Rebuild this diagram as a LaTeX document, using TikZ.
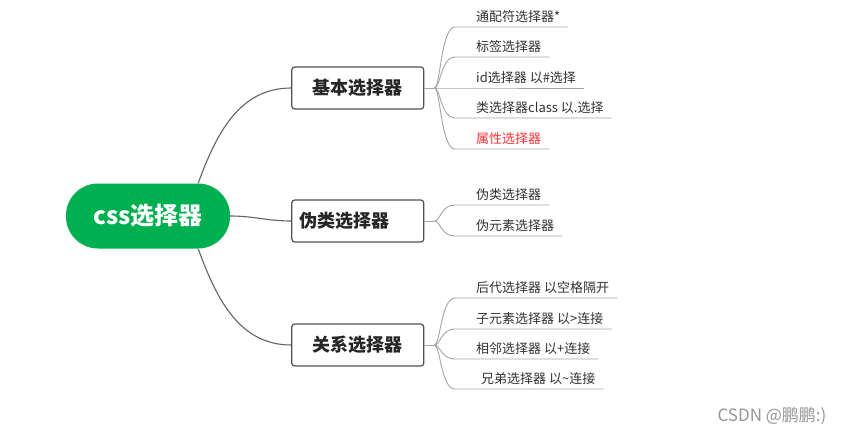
\documentclass[tikz,border=0pt]{standalone}
\usepackage{fontspec}
\setmainfont{Noto Sans CJK SC}
\usepackage{tikz}
\usetikzlibrary{positioning}
\definecolor{verderaiz}{RGB}{0,176,80}
\definecolor{grisborde}{RGB}{80,80,80}
\definecolor{grisrama}{RGB}{100,100,100}
\definecolor{grishoja}{RGB}{165,165,165}
\definecolor{gristexto}{RGB}{51,51,51}
\definecolor{rojohoja}{RGB}{255,51,51}
\definecolor{marcaagua}{RGB}{150,150,150}

\begin{document}
\begin{tikzpicture}[x=1pt, y=1pt,
  raiz/.style={fill=verderaiz, rounded corners=32pt, minimum width=164pt,
               minimum height=65pt, text=white,
               font=\fontsize{24}{28}\selectfont\bfseries},
  rama/.style={draw=grisborde, line width=1.2pt, fill=white, rounded corners=3pt,
               minimum width=132pt, minimum height=42pt, text=black!85,
               font=\fontsize{18}{22}\selectfont\bfseries},
  hoja/.style={anchor=south west, inner xsep=0pt, inner ysep=2pt, text depth=3pt,
               text=gristexto, font=\fontsize{13}{15}\selectfont},
  enlace/.style={draw=grisrama, line width=1.1pt},
  ramita/.style={draw=grishoja, line width=0.9pt}]
  \fill[white] (0,0) rectangle (848,-433);
  \useasboundingbox (0,0) rectangle (848,-433);
  \node[raiz] (css) at (148,-216) {css选择器};
  \node[rama, right=61pt of css, yshift=128pt] (basico) {基本选择器};
  \node[rama, right=61pt of css, yshift=-5pt, text width=116pt, align=left] (pseudo) {伪类选择器};
  \node[rama, right=61pt of css, yshift=-129pt] (relacion) {关系选择器};
  \draw[enlace] ([xshift=-32pt]css.north east) to[out=70, in=180] (basico.west);
  \draw[enlace] (css.east) to[out=0, in=180] (pseudo.west);
  \draw[enlace] ([xshift=-32pt]css.south east) to[out=-70, in=180] (relacion.west);
  % basico
  \coordinate[right=10pt of basico.east] (fb);
  \node[hoja] (b1) at (476,-27) {通配符选择器*};
  \node[hoja] (b2) at (476,-57) {标签选择器};
  \node[hoja] (b3) at (476,-88) {id选择器 以\#选择};
  \node[hoja] (b4) at (476,-118) {类选择器class 以.选择};
  \node[hoja, text=rojohoja] (b5) at (476,-149) {属性选择器};
  \draw[ramita] (basico) -- (fb);
  \draw[ramita] (fb) .. controls +(6,0) and +(-14,0) .. ([xshift=-21pt]b1.south west) -- ([xshift=8pt]b1.south east);
  \draw[ramita] (fb) .. controls +(6,0) and +(-14,0) .. ([xshift=-21pt]b2.south west) -- ([xshift=8pt]b2.south east);
  \draw[ramita] (fb) -- ([xshift=-21pt]b3.south west) -- ([xshift=8pt]b3.south east);
  \draw[ramita] (fb) .. controls +(6,0) and +(-14,0) .. ([xshift=-21pt]b4.south west) -- ([xshift=8pt]b4.south east);
  \draw[ramita] (fb) .. controls +(6,0) and +(-14,0) .. ([xshift=-21pt]b5.south west) -- ([xshift=8pt]b5.south east);
  % pseudo
  \coordinate[right=10pt of pseudo.east] (fp);
  \node[hoja] (p1) at (476,-205) {伪类选择器};
  \node[hoja] (p2) at (476,-236) {伪元素选择器};
  \draw[ramita] (pseudo) -- (fp);
  \draw[ramita] (fp) .. controls +(6,0) and +(-14,0) .. ([xshift=-21pt]p1.south west) -- ([xshift=8pt]p1.south east);
  \draw[ramita] (fp) .. controls +(6,0) and +(-14,0) .. ([xshift=-21pt]p2.south west) -- ([xshift=8pt]p2.south east);
  % relacion
  \coordinate[right=10pt of relacion.east] (fr);
  \node[hoja] (r1) at (476,-298) {后代选择器 以空格隔开};
  \node[hoja] (r2) at (476,-329) {子元素选择器 以>连接};
  \node[hoja] (r3) at (476,-359) {相邻选择器 以+连接};
  \node[hoja] (r4) at (481,-389) {兄弟选择器 以\textasciitilde{}连接};
  \draw[ramita] (relacion) -- (fr);
  \draw[ramita] (fr) .. controls +(6,0) and +(-14,0) .. ([xshift=-21pt]r1.south west) -- ([xshift=8pt]r1.south east);
  \draw[ramita] (fr) .. controls +(6,0) and +(-14,0) .. ([xshift=-21pt]r2.south west) -- ([xshift=8pt]r2.south east);
  \draw[ramita] (fr) .. controls +(6,0) and +(-14,0) .. ([xshift=-21pt]r3.south west) -- ([xshift=8pt]r3.south east);
  \draw[ramita] (fr) .. controls +(6,0) and +(-14,0) .. ([xshift=-26pt]r4.south west) -- ([xshift=8pt]r4.south east);
  \node[font=\fontsize{17}{20}\selectfont, text=marcaagua] (marca) at (772,-416) {CSDN @鹏鹏:)};
\end{tikzpicture}
\end{document}
